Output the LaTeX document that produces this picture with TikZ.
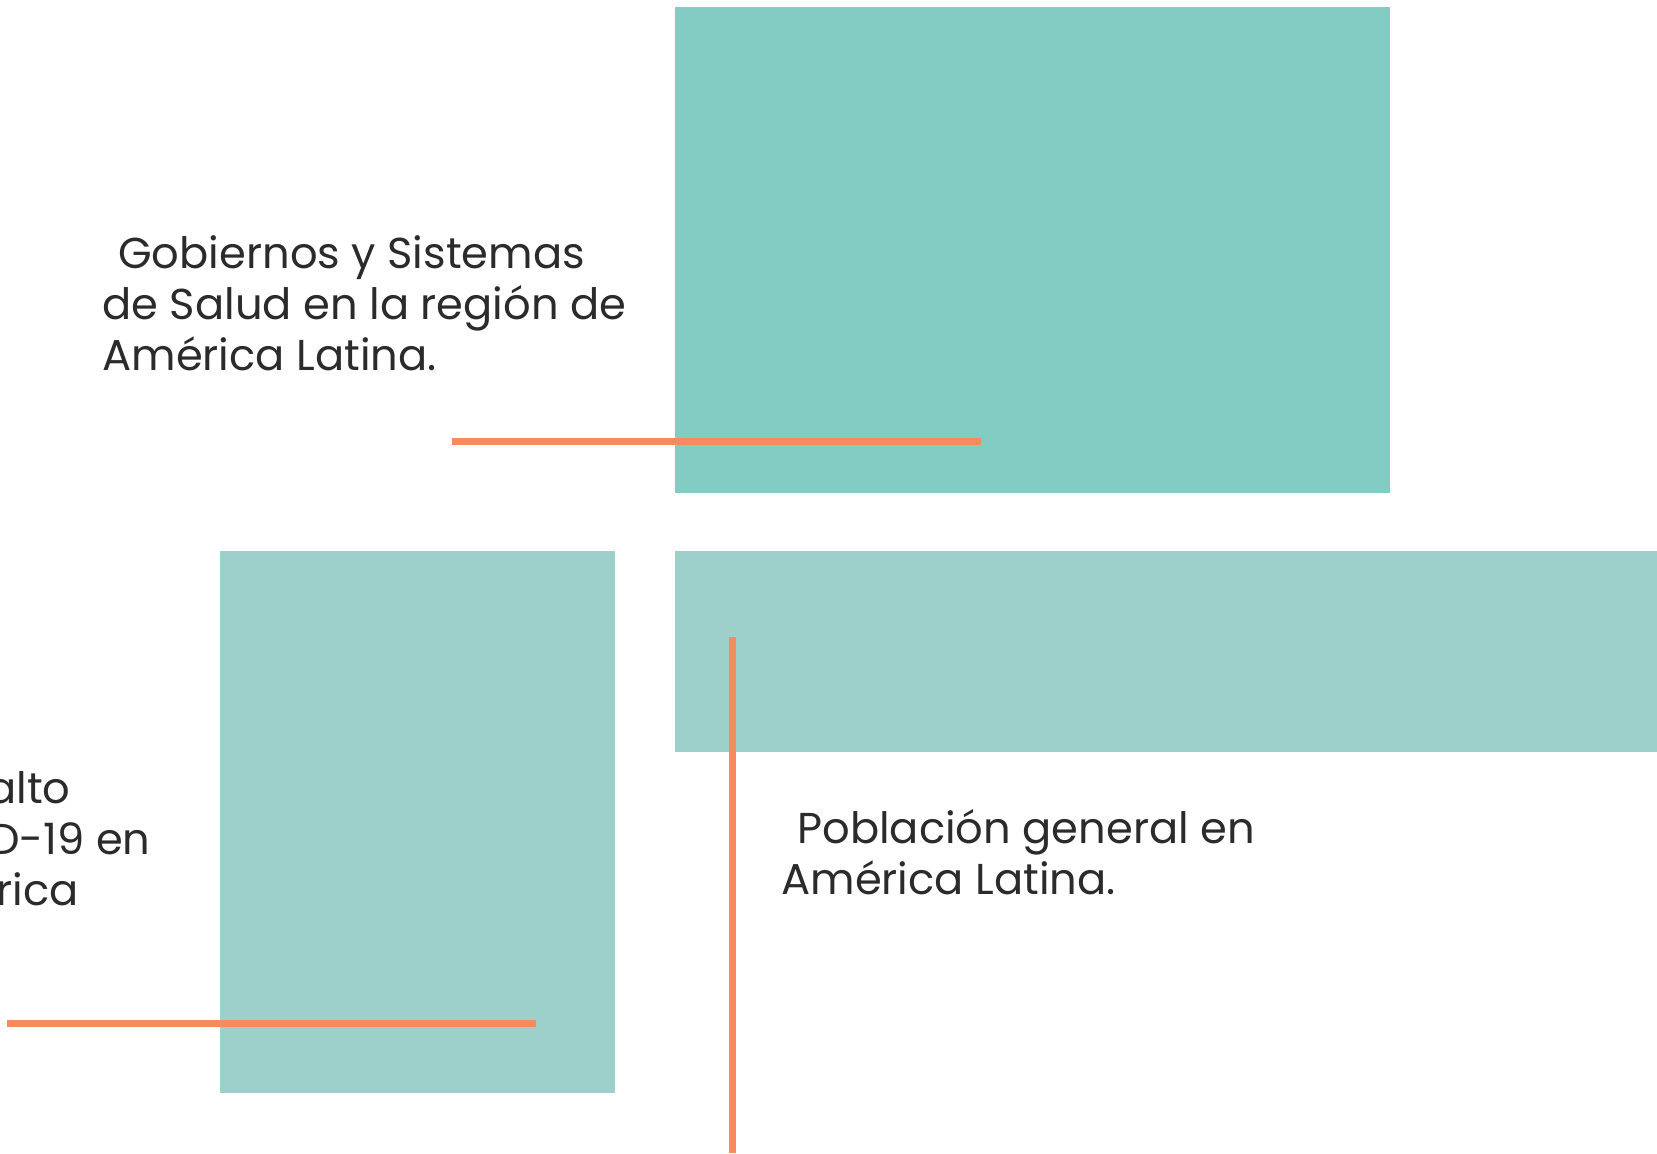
\documentclass[tikz,border=0pt]{standalone}
\usepackage{fontspec}
\setmainfont{Poppins}
\usepackage{xcolor}
\usepackage{tikz}
\definecolor{tealA}{HTML}{83CCC4}
\definecolor{tealB}{HTML}{9ED0CB}
\definecolor{coral}{HTML}{F68B61}
\definecolor{ink}{HTML}{2B2B2B}

\begin{document}
\begin{tikzpicture}[x=0.5pt,y=-0.5pt,
  tealbox/.style={fill=tealA},
  palebox/.style={fill=tealB},
  accent/.style={draw=coral,line width=3.5pt},
  label/.style={inner sep=0pt,text=ink,align=left,font=\fontsize{21.6}{25.5}\selectfont}]
\useasboundingbox (0,0) rectangle (1657,1153);

\fill[tealbox](675,7) rectangle (1390,493);
\fill[palebox](220,551) rectangle (615,1093);
\fill[palebox](675,551) rectangle (1657,752);

\draw[accent](452,441) -- (981,441);
\draw[accent](732,637) -- (732,1153);
\draw[accent](7,1023) -- (536,1023);

\node[label,anchor=north west] (salud) at (102,235)
  {\hspace*{0.37em}Gobiernos y Sistemas\\de Salud en la región de\\América Latina.};
\node[label,anchor=north west] (poblacion) at (781,809)
  {\hspace*{0.37em}Población general en\\América Latina.};

%% left text, cut by the page edge
\node[label,anchor=base east] (altoA) at (71,803) {alto};
\node[label,anchor=base east] (altoB) at (151,854) {D-19 en};
\node[label,anchor=base east] (altoC) at (79,905) {rica};
\end{tikzpicture}
\end{document}
